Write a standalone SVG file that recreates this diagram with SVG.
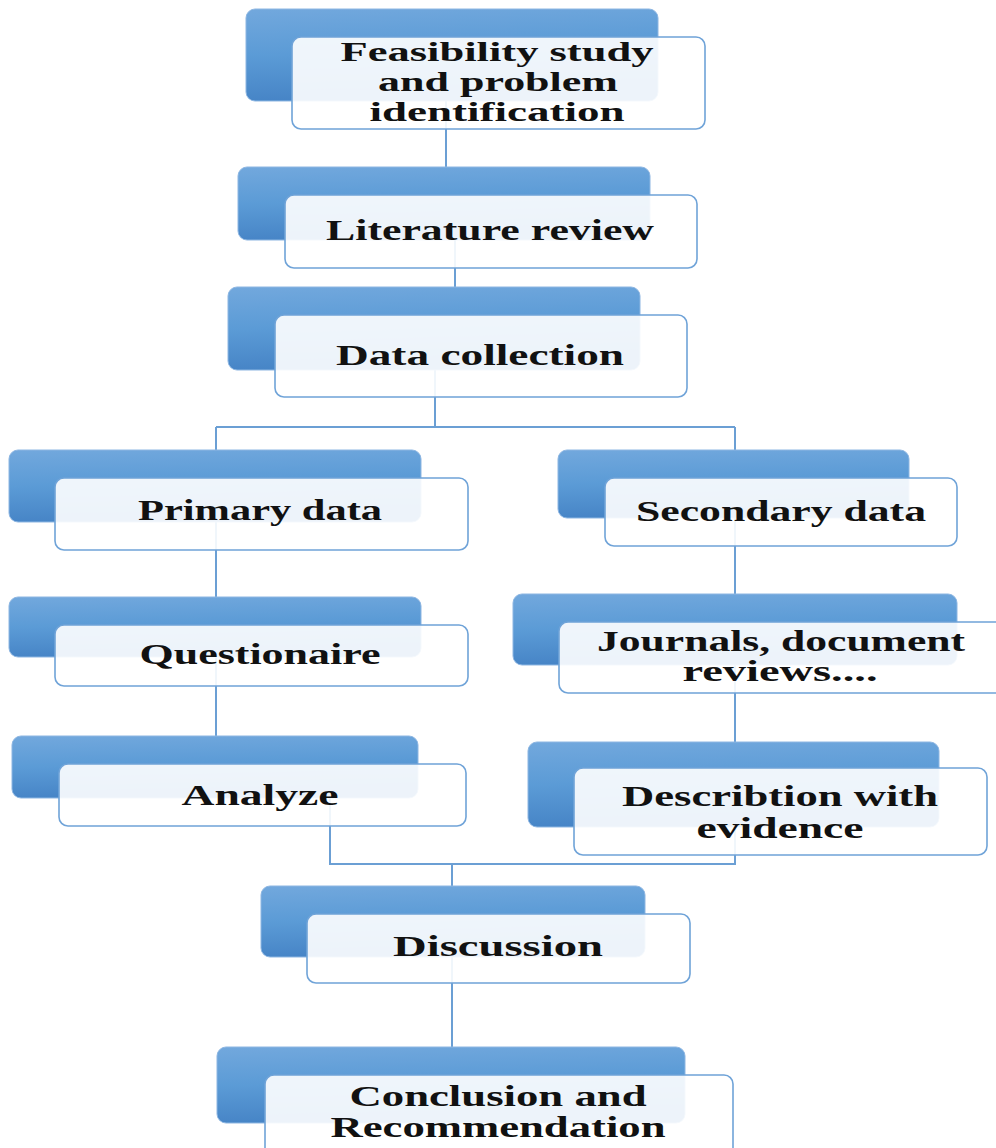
<svg xmlns="http://www.w3.org/2000/svg" width="996" height="1148" viewBox="0 0 996 1148">
<defs>
<linearGradient id="bg" x1="0" y1="0" x2="0.15" y2="1">
<stop offset="0" stop-color="#72A8DD"/>
<stop offset="0.5" stop-color="#5B9BD6"/>
<stop offset="1" stop-color="#4684C6"/>
</linearGradient>
</defs>
<style>
.back{fill:url(#bg);stroke:#8DB6E2;stroke-width:1}
.front{fill:#FFFFFF;fill-opacity:0.9;stroke:#6FA3D8;stroke-width:1.6}
.conn{fill:none;stroke:#6B9FD4;stroke-width:2}
text{font-family:"Liberation Serif","Times New Roman",serif;font-weight:bold;font-size:30px;fill:#111;text-anchor:middle}
.tight{font-size:27px}
</style>
<rect width="996" height="1148" fill="#FFFFFF"/>
<g id="connectors">
<path class="conn" d="M446 101 V167"/>
<path class="conn" d="M455 240 V287"/>
<path class="conn" d="M435 370 V427 M216 427 H735 M216 427 V450 M735 427 V450"/>
<path class="conn" d="M216 522 V597"/>
<path class="conn" d="M216 657 V736"/>
<path class="conn" d="M735 518 V594"/>
<path class="conn" d="M735 665 V742"/>
<path class="conn" d="M330 798 V864 H735 V827 M452 864 V886"/>
<path class="conn" d="M452 957 V1047"/>
</g>
<g id="n1">
<rect class="back" x="246" y="9" width="412" height="92" rx="9"/>
<rect class="front" x="292" y="37" width="413" height="92" rx="9"/>
<text class="tight" x="497" y="61" textLength="313" lengthAdjust="spacingAndGlyphs">Feasibility study</text>
<text class="tight" x="498" y="91" textLength="240" lengthAdjust="spacingAndGlyphs">and problem</text>
<text class="tight" x="497" y="121" textLength="255" lengthAdjust="spacingAndGlyphs">identification</text>
</g>
<g id="n2">
<rect class="back" x="238" y="167" width="412" height="73" rx="9"/>
<rect class="front" x="285" y="195" width="412" height="73" rx="9"/>
<text x="490" y="240" textLength="328" lengthAdjust="spacingAndGlyphs">Literature review</text>
</g>
<g id="n3">
<rect class="back" x="228" y="287" width="412" height="83" rx="9"/>
<rect class="front" x="275" y="315" width="412" height="82" rx="9"/>
<text x="480" y="365" textLength="288" lengthAdjust="spacingAndGlyphs">Data collection</text>
</g>
<g id="n4">
<rect class="back" x="9" y="450" width="412" height="72" rx="9"/>
<rect class="front" x="55" y="478" width="413" height="72" rx="9"/>
<text x="260" y="520" textLength="244" lengthAdjust="spacingAndGlyphs">Primary data</text>
</g>
<g id="n5">
<rect class="back" x="9" y="597" width="412" height="60" rx="9"/>
<rect class="front" x="55" y="625" width="413" height="61" rx="9"/>
<text x="260" y="664" textLength="241" lengthAdjust="spacingAndGlyphs">Questionaire</text>
</g>
<g id="n6">
<rect class="back" x="12" y="736" width="406" height="62" rx="9"/>
<rect class="front" x="59" y="764" width="407" height="62" rx="9"/>
<text x="260" y="805" textLength="157" lengthAdjust="spacingAndGlyphs">Analyze</text>
</g>
<g id="n7">
<rect class="back" x="558" y="450" width="351" height="68" rx="9"/>
<rect class="front" x="605" y="478" width="352" height="68" rx="9"/>
<text x="781" y="521" textLength="290" lengthAdjust="spacingAndGlyphs">Secondary data</text>
</g>
<g id="n8">
<rect class="back" x="513" y="594" width="444" height="71" rx="9"/>
<rect class="front" x="559" y="622" width="450" height="71" rx="9"/>
<text x="781" y="651" textLength="368" lengthAdjust="spacingAndGlyphs">Journals, document</text>
<text x="780" y="681" textLength="195" lengthAdjust="spacingAndGlyphs">reviews....</text>
</g>
<g id="n9">
<rect class="back" x="528" y="742" width="411" height="85" rx="9"/>
<rect class="front" x="574" y="768" width="413" height="87" rx="9"/>
<text x="780" y="806" textLength="316" lengthAdjust="spacingAndGlyphs">Describtion with</text>
<text x="780" y="838" textLength="167" lengthAdjust="spacingAndGlyphs">evidence</text>
</g>
<g id="n10">
<rect class="back" x="261" y="886" width="384" height="71" rx="9"/>
<rect class="front" x="307" y="914" width="383" height="69" rx="9"/>
<text x="498" y="956" textLength="210" lengthAdjust="spacingAndGlyphs">Discussion</text>
</g>
<g id="n11">
<rect class="back" x="217" y="1047" width="468" height="76" rx="9"/>
<rect class="front" x="265" y="1075" width="468" height="90" rx="9"/>
<text x="498" y="1106" textLength="297" lengthAdjust="spacingAndGlyphs">Conclusion and</text>
<text x="498" y="1137" textLength="335" lengthAdjust="spacingAndGlyphs">Recommendation</text>
</g>
</svg>
